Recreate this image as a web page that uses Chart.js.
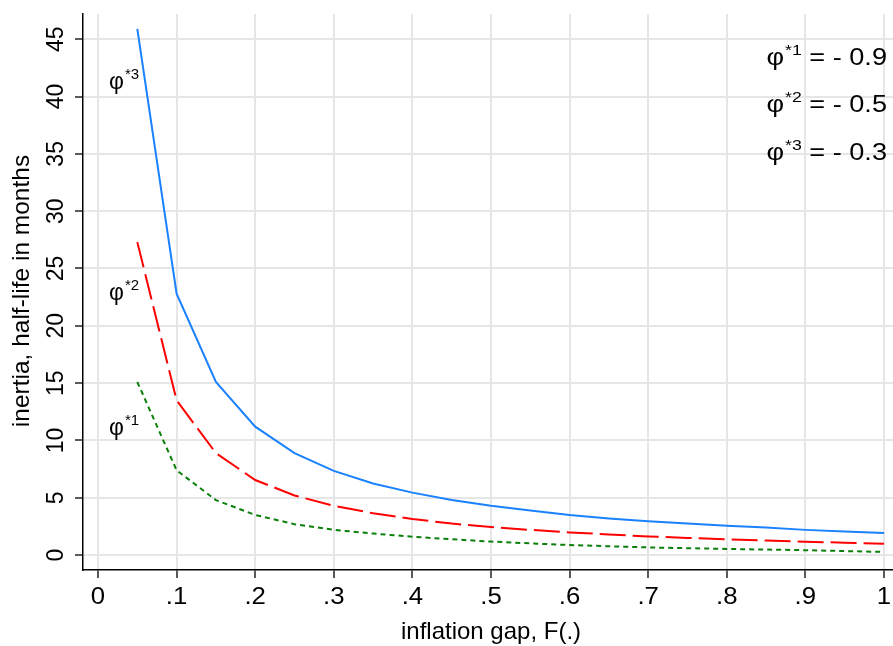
<!DOCTYPE html>
<html>
<head>
<meta charset="utf-8">
<script src="https://cdn.jsdelivr.net/npm/chart.js@4.4.1/dist/chart.umd.min.js"></script>
<style>
html,body{margin:0;padding:0;background:#fff;overflow:hidden;}
#wrap{position:relative;width:893px;height:646px;}
</style>
</head>
<body>
<div id="wrap"><canvas id="c" width="893" height="646"></canvas></div>
<script>
const xValues = [0.05,0.10,0.15,0.20,0.25,0.30,0.35,0.40,0.45,0.50,0.55,0.60,0.65,0.70,0.75,0.80,0.85,0.90,0.95,1.00];
const phi3 = [45.9,22.8,15.1,11.2,8.9,7.35,6.25,5.45,4.8,4.3,3.9,3.5,3.2,2.95,2.75,2.55,2.4,2.2,2.05,1.92];
const phi2 = [27.3,13.5,8.9,6.55,5.2,4.3,3.65,3.15,2.75,2.45,2.2,1.98,1.8,1.63,1.5,1.38,1.27,1.17,1.08,1.0];
const phi1 = [15.1,7.4,4.8,3.5,2.7,2.2,1.88,1.6,1.38,1.18,1.02,0.88,0.77,0.67,0.6,0.54,0.48,0.43,0.35,0.28];
const xTicks = [0,0.1,0.2,0.3,0.4,0.5,0.6,0.7,0.8,0.9,1];
const xTickLabels = ["0",".1",".2",".3",".4",".5",".6",".7",".8",".9","1"];
const yTicks = [0,5,10,15,20,25,30,35,40,45];
const yTickLabels = ["0","5","10","15","20","25","30","35","40","45"];
const xTitle = "inflation gap, F(.)";
const yTitle = "inertia, half-life in months";
const legendLines = [["1","= - 0.9"],["2","= - 0.5"],["3","= - 0.3"]];

const pts = arr => xValues.map((x,i)=>({x:x,y:arr[i]}));
const FONT = "'Liberation Sans', Arial, Helvetica, sans-serif";

function hText(ctx, str, x, y, size, align, sx){
  ctx.save();
  ctx.font = size + "px " + FONT;
  ctx.textAlign = align;
  ctx.textBaseline = 'alphabetic';
  ctx.translate(x, y);
  ctx.scale(sx, 1);
  ctx.fillText(str, 0, 0);
  ctx.restore();
}
function vText(ctx, str, x, y, size){
  ctx.save();
  ctx.font = size + "px " + FONT;
  ctx.textAlign = 'center';
  ctx.textBaseline = 'alphabetic';
  ctx.translate(x, y);
  ctx.rotate(-Math.PI/2);
  ctx.fillText(str, 0, 0);
  ctx.restore();
}

const textPlugin = {
  id:'texts',
  afterDraw(chart){
    const ctx = chart.ctx;
    const xs = chart.scales.x, ys = chart.scales.y;
    const ca = chart.chartArea;
    ctx.save();
    ctx.fillStyle = '#000';
    yTicks.forEach((v,i)=>{ vText(ctx, yTickLabels[i], 63, ys.getPixelForValue(v), 23); });
    xTicks.forEach((v,i)=>{ hText(ctx, xTickLabels[i], xs.getPixelForValue(v), 604, 23, 'center', 1.12); });
    hText(ctx, xTitle, 491, 639, 24, 'center', 1.0);
    vText(ctx, yTitle, 29, 291, 24.5);

    const phiLabel = (x, y, sup, big, small, alignRight, rest, sx) => {
      ctx.font = big + "px " + FONT;
      const wPhi = ctx.measureText("\u03C6").width * sx;
      ctx.font = small + "px " + FONT;
      const wSup = ctx.measureText("*"+sup).width * sx;
      ctx.font = big + "px " + FONT;
      const wRest = rest ? ctx.measureText(" "+rest).width * sx : 0;
      const startX = alignRight ? x - (wPhi + wSup + wRest + 1) : x;
      hText(ctx, "\u03C6", startX, y, big, 'left', sx);
      hText(ctx, "*"+sup, startX + wPhi + 1, y - big*0.42, small, 'left', sx);
      if (rest) hText(ctx, " "+rest, startX + wPhi + wSup + 1, y, big, 'left', sx);
    };
    phiLabel(109, 89, "3", 23, 15, false, null, 1.0);
    phiLabel(109, 300, "2", 23, 15, false, null, 1.0);
    phiLabel(109, 435, "1", 23, 15, false, null, 1.0);
    phiLabel(887, 65, legendLines[0][0], 23, 15, true, legendLines[0][1], 1.18);
    phiLabel(887, 112, legendLines[1][0], 23, 15, true, legendLines[1][1], 1.18);
    phiLabel(887, 160, legendLines[2][0], 23, 15, true, legendLines[2][1], 1.18);
    ctx.restore();
  }
};

new Chart(document.getElementById('c'), {
  type:'line',
  data:{
    datasets:[
      {data:pts(phi3), borderColor:'#1a82ff', borderWidth:2, pointRadius:0, tension:0, fill:false},
      {data:pts(phi2), borderColor:'#ff0000', borderWidth:2, borderDash:[26,7], pointRadius:0, tension:0, fill:false},
      {data:pts(phi1), borderColor:'#0a800a', borderWidth:2, borderDash:[5,4], pointRadius:0, tension:0, fill:false}
    ]
  },
  options:{
    responsive:false,
    animation:false,
    layout:{padding:{top:14,right:0,left:0,bottom:0}},
    plugins:{legend:{display:false}, tooltip:{enabled:false}},
    scales:{
      x:{
        type:'linear', min:-0.0191, max:1.0115,
        afterBuildTicks(s){ s.ticks = xTicks.map(v=>({value:v})); },
        afterFit(s){ s.height = 76; },
        ticks:{display:false},
        grid:{color:'#e6e6e6', lineWidth:2, tickColor:'#000', tickLength:8, tickWidth:1.3},
        border:{color:'#000', width:1.5}
      },
      y:{
        type:'linear', min:-1.3, max:47.2,
        afterBuildTicks(s){ s.ticks = yTicks.map(v=>({value:v})); },
        afterFit(s){ s.width = 83; },
        ticks:{display:false},
        grid:{color:'#e6e6e6', lineWidth:2, tickColor:'#000', tickLength:8, tickWidth:1.3},
        border:{color:'#000', width:1.5}
      }
    }
  },
  plugins:[textPlugin]
});
</script>
</body>
</html>
